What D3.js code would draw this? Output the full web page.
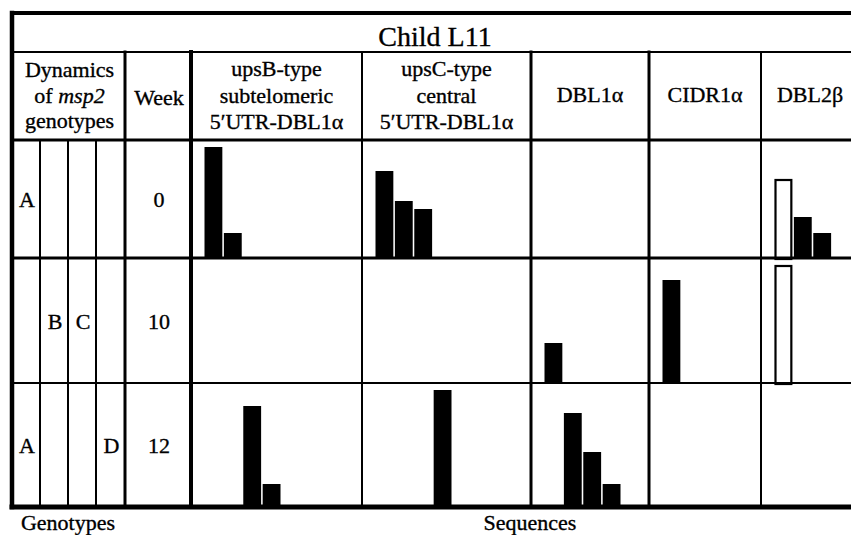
<!DOCTYPE html>
<html>
<head>
<meta charset="utf-8">
<script src="https://cdn.jsdelivr.net/npm/d3@7"></script>
<style>
  html, body { margin: 0; padding: 0; background: #fff; }
  svg { display: block; }
  text { font-family: "Liberation Serif", "Times New Roman", serif; fill: #000; stroke: #000; stroke-width: 0.35px; }
</style>
</head>
<body>
<svg id="chart" width="851" height="535"></svg>
<script>
// ---------------- DATA ----------------
const title = "Child L11";
const weeks = ["0", "10", "12"];
const sequenceTypes = [
  ["upsB-type", "subtelomeric", "5′UTR-DBL1α"],
  ["upsC-type", "central", "5′UTR-DBL1α"],
  ["DBL1α"],
  ["CIDR1α"],
  ["DBL2β"]
];
const genotypeLetters = ["A", "B", "C", "D"];
// genotype presence per week (rows) for A, B, C, D
const genotypesWeek0  = ["A", "", "", ""];
const genotypesWeek10 = ["", "B", "C", ""];
const genotypesWeek12 = ["A", "", "", "D"];
// bar heights (relative frequency) per sequence slot, null = absent
const upsBWeek0   = [111, 25, null, null];
const upsBWeek10  = [null, null, null, null];
const upsBWeek12  = [null, null, 101, 23];
const upsCWeek0   = [87, 57, 49, null];
const upsCWeek10  = [null, null, null, null];
const upsCWeek12  = [null, null, null, 117];
const dbl1aWeek0  = [null, null, null, null];
const dbl1aWeek10 = [40, null, null, null];
const dbl1aWeek12 = [null, 94, 55, 23];
const cidrWeek0   = [null, null, null, null];
const cidrWeek10  = [103, null, null, null];
const cidrWeek12  = [null, null, null, null];
const dbl2bWeek0  = [79, 41, 25, null];
const dbl2bWeek10 = [118, null, null, null];
const dbl2bWeek12 = [null, null, null, null];
// open (unfilled) bars: [week index, column index, slot]
const openBars = [[0, 4, 0], [1, 4, 0]];
const slots = [0, 1, 2, 3];
const footerLeft = "Genotypes";
const footerRight = "Sequences";

// ---------------- LAYOUT ----------------
const svg = d3.select("#chart");
const W = 851;
const left = 12, titleTop = 13, headTop = 52, headBottom = 140;
const rowEdges = [140, 258, 383, 507];
const genoEdges = [12, 40, 68, 96, 125];
const weekEdge = 191;
const colEdges = [191, 362, 531, 649, 761, 851];

const rowsData = [
  [upsBWeek0, upsCWeek0, dbl1aWeek0, cidrWeek0, dbl2bWeek0],
  [upsBWeek10, upsCWeek10, dbl1aWeek10, cidrWeek10, dbl2bWeek10],
  [upsBWeek12, upsCWeek12, dbl1aWeek12, cidrWeek12, dbl2bWeek12]
];
const genoRows = [genotypesWeek0, genotypesWeek10, genotypesWeek12];

const yH = d3.scaleLinear().domain([0, 125]).range([0, 125]);

// bars
const barG = svg.append("g");
rowsData.forEach((row, ri) => {
  const base = rowEdges[ri + 1];
  row.forEach((vals, ci) => {
    const x = d3.scaleBand().domain(slots)
      .range([colEdges[ci] + 13.5, colEdges[ci] + 13.5 + 19 * slots.length])
      .paddingInner(0.08).paddingOuter(0);
    vals.forEach((v, si) => {
      if (v == null) return;
      const open = openBars.some(o => o[0] === ri && o[1] === ci && o[2] === si);
      if (open) {
        barG.append("rect")
          .attr("x", x(si) + 1).attr("y", base - yH(v) + 1)
          .attr("width", x.bandwidth() - 2).attr("height", yH(v))
          .attr("fill", "#fff").attr("stroke", "#000").attr("stroke-width", 2.2);
      } else {
        barG.append("rect")
          .attr("x", x(si)).attr("y", base - yH(v))
          .attr("width", x.bandwidth()).attr("height", yH(v))
          .attr("fill", "#000");
      }
    });
  });
});

// grid lines
const lines = svg.append("g").attr("stroke", "#000").attr("stroke-linecap", "square");
function hl(y, x1, x2, w) { lines.append("line").attr("x1", x1).attr("x2", x2).attr("y1", y).attr("y2", y).attr("stroke-width", w); }
function vl(x, y1, y2, w) { lines.append("line").attr("x1", x).attr("x2", x).attr("y1", y1).attr("y2", y2).attr("stroke-width", w); }

hl(titleTop, left, W, 4);
hl(headTop, left, W, 2);
hl(headBottom, left, W, 3);
hl(rowEdges[1], left, W, 3);
hl(rowEdges[2], left, W, 2);
hl(rowEdges[3], left, W, 5);
vl(left, titleTop, rowEdges[3], 4.5);
genoEdges.slice(1, 4).forEach(x => vl(x, headBottom, rowEdges[3], 2));
vl(genoEdges[4], headTop, rowEdges[3], 3);
vl(weekEdge, headTop, rowEdges[3], 4);
vl(colEdges[1], headTop, rowEdges[3], 2);
vl(colEdges[2], headTop, rowEdges[3], 3);
vl(colEdges[3], headTop, rowEdges[3], 3);
vl(colEdges[4], headTop, rowEdges[3], 2);

// texts
const fs = 22;
svg.append("text").attr("x", 435).attr("y", 46).attr("text-anchor", "middle")
  .attr("font-size", 28).text(title);

const gx = (left + genoEdges[4]) / 2 + 1;
const dyn = svg.append("g").attr("font-size", fs).attr("text-anchor", "middle");
dyn.append("text").attr("x", gx).attr("y", 77).text("Dynamics");
const t2 = dyn.append("text").attr("x", gx).attr("y", 103);
t2.append("tspan").text("of ");
t2.append("tspan").attr("font-style", "italic").text("msp2");
dyn.append("text").attr("x", gx).attr("y", 128).text("genotypes");

svg.append("text").attr("x", (genoEdges[4] + weekEdge) / 2 + 1).attr("y", 105)
  .attr("text-anchor", "middle").attr("font-size", fs).text("Week");

sequenceTypes.forEach((lbls, ci) => {
  const cx = (colEdges[ci] + colEdges[ci + 1]) / 2;
  const cxx = ci === 4 ? 810 : cx;
  if (lbls.length === 3) {
    lbls.forEach((l, li) => {
      svg.append("text").attr("x", cxx).attr("y", 76 + li * 26.5)
        .attr("text-anchor", "middle").attr("font-size", fs).text(l);
    });
  } else {
    svg.append("text").attr("x", cxx).attr("y", 102)
      .attr("text-anchor", "middle").attr("font-size", fs).text(lbls[0]);
  }
});

weeks.forEach((w, ri) => {
  const cy = (rowEdges[ri] + rowEdges[ri + 1]) / 2 + 8;
  svg.append("text").attr("x", (genoEdges[4] + weekEdge) / 2 + 1).attr("y", cy)
    .attr("text-anchor", "middle").attr("font-size", fs).text(w);
  genoRows[ri].forEach((g, gi) => {
    if (!g) return;
    svg.append("text").attr("x", (genoEdges[gi] + genoEdges[gi + 1]) / 2 + 1).attr("y", cy)
      .attr("text-anchor", "middle").attr("font-size", fs).text(g);
  });
});

svg.append("text").attr("x", 68).attr("y", 530).attr("text-anchor", "middle")
  .attr("font-size", fs).text(footerLeft);
svg.append("text").attr("x", 530).attr("y", 530).attr("text-anchor", "middle")
  .attr("font-size", fs).text(footerRight);
</script>
</body>
</html>
